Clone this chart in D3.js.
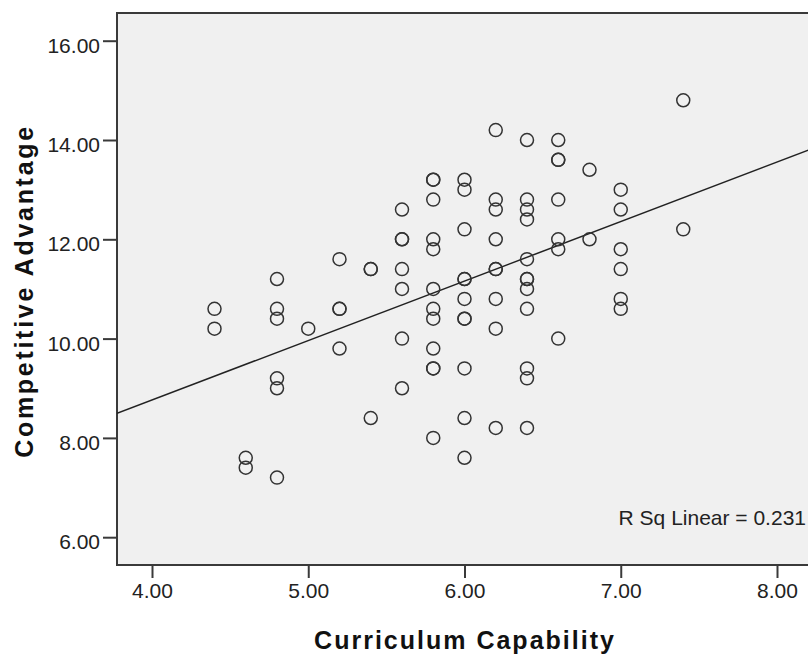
<!DOCTYPE html>
<html>
<head>
<meta charset="utf-8">
<script src="https://cdn.jsdelivr.net/npm/d3@7"></script>
<style>
body { margin:0; background:#fff; }
.axis text { font-family: "Liberation Sans", Arial, sans-serif; font-size:21px; fill:#222; }
.title { font-family: "Liberation Sans", Arial, sans-serif; font-weight:bold; font-size:25px; fill:#111; }
</style>
</head>
<body>
<div id="chart"></div>
<script>
// points, one x per y
let capability = [
    4.4,4.4,
    4.6,4.6,
    4.8,4.8,4.8,4.8,4.8,4.8,
    5.0,
    5.2,5.2,5.2,5.2,
    5.4,5.4,5.4,
    5.6,5.6,5.6,5.6,5.6,5.6,5.6,
    5.8,5.8,5.8,5.8,5.8,5.8,5.8,5.8,5.8,5.8,5.8,5.8,
    6.0,6.0,6.0,6.0,6.0,6.0,6.0,6.0,6.0,6.0,6.0,
    6.2,6.2,6.2,6.2,6.2,6.2,6.2,6.2,6.2,
    6.4,6.4,6.4,6.4,6.4,6.4,6.4,6.4,6.4,6.4,6.4,6.4,
    6.6,6.6,6.6,6.6,6.6,6.6,6.6,
    6.8,6.8,
    7.0,7.0,7.0,7.0,7.0,7.0,
    7.4,7.4
];
let advantage = [
    10.6,10.2,
    7.6,7.4,
    11.2,10.6,10.4,9.2,9.0,7.2,
    10.2,
    11.6,10.6,10.6,9.8,
    11.4,11.4,8.4,
    12.6,12.0,12.0,11.4,11.0,10.0,9.0,
    13.2,13.2,12.8,12.0,11.8,11.0,10.6,10.4,9.8,9.4,9.4,8.0,
    13.2,13.0,12.2,11.2,11.2,10.8,10.4,10.4,9.4,8.4,7.6,
    14.2,12.8,12.6,12.0,11.4,11.4,10.8,10.2,8.2,
    14.0,12.8,12.6,12.4,11.6,11.2,11.2,11.0,10.6,9.4,9.2,8.2,
    14.0,13.6,13.6,12.8,12.0,11.8,10.0,
    13.4,12.0,
    13.0,12.6,11.8,11.4,10.8,10.6,
    14.8,12.2
];
let xTicks = [4, 5, 6, 7, 8];
let yTicks = [6, 8, 10, 12, 14, 16];
// fit line as drawn in the picture
let fitIntercept = 3.971, fitSlope = 1.198;
let rsqLabel = "R Sq Linear = 0.231";

let width = 808, height = 656;
let plot = {left:117, top:13, right:820, bottom:565};

var x = d3.scaleLinear().domain([3.776, 8.2]).range([plot.left, plot.left + (8.2-3.776)*156.25]);
var y = d3.scaleLinear().domain([5.44, 16.558]).range([plot.bottom, plot.top]);

let svg = d3.select('#chart').append('svg').attr('width',width).attr('height',height);

svg.append('defs').append('clipPath').attr('id','plotclip')
    .append('rect').attr('x',plot.left).attr('y',plot.top)
    .attr('width',plot.right-plot.left).attr('height',plot.bottom-plot.top);

// plot background + frame
svg.append('rect').attr('x',plot.left).attr('y',plot.top)
    .attr('width',plot.right-plot.left).attr('height',plot.bottom-plot.top)
    .attr('fill','#f0f0f0').attr('stroke','#3a3a3a').attr('stroke-width',2);

// axes
var xAxis = d3.axisBottom(x).tickValues(xTicks).tickFormat(d3.format('.2f')).tickSize(12).tickSizeOuter(0).tickPadding(5);
var yAxis = d3.axisLeft(y).tickValues(yTicks).tickFormat(d3.format('.2f')).tickSize(13).tickSizeOuter(0).tickPadding(3);

let gx = svg.append('g').attr('class','axis').attr('transform','translate(0,'+(plot.bottom+1)+')').call(xAxis);
let gy = svg.append('g').attr('class','axis').attr('transform','translate('+(plot.left-1)+',0)').call(yAxis);
[gx, gy].forEach(function(g){
    g.select('.domain').remove();
    g.selectAll('.tick line').attr('stroke','#3a3a3a').attr('stroke-width',2);
});
gx.selectAll('.tick text').attr('dy','0.72em');
gy.selectAll('.tick text').attr('dy','0.55em');

let inner = svg.append('g').attr('clip-path','url(#plotclip)');

// regression line
let x0 = x.domain()[0], x1 = x.domain()[1];
inner.append('line')
    .attr('x1',x(x0)).attr('y1',y(fitIntercept + fitSlope*x0))
    .attr('x2',x(x1)).attr('y2',y(fitIntercept + fitSlope*x1))
    .attr('stroke','#222').attr('stroke-width',1.5);

// points
inner.selectAll('.pt').data(d3.range(capability.length)).enter().append('circle')
    .attr('class','pt')
    .attr('cx',function(i){ return x(capability[i]); })
    .attr('cy',function(i){ return y(advantage[i]); })
    .attr('r',6.5)
    .attr('fill','none')
    .attr('stroke','#333')
    .attr('stroke-width',1.5);

svg.append('text').attr('class','axis-note')
    .attr('x',806).attr('y',525)
    .attr('text-anchor','end')
    .style('font-family','"Liberation Sans", Arial, sans-serif').style('font-size','21px').attr('fill','#222')
    .text(rsqLabel);

// axis titles
svg.append('text').attr('class','title')
    .attr('x',465).attr('y',649).attr('text-anchor','middle')
    .style('letter-spacing','2px')
    .text('Curriculum Capability');

svg.append('text').attr('class','title')
    .attr('transform','translate(33,291) rotate(-90)').attr('text-anchor','middle')
    .style('letter-spacing','2.7px')
    .text('Competitive Advantage');
</script>
</body>
</html>
